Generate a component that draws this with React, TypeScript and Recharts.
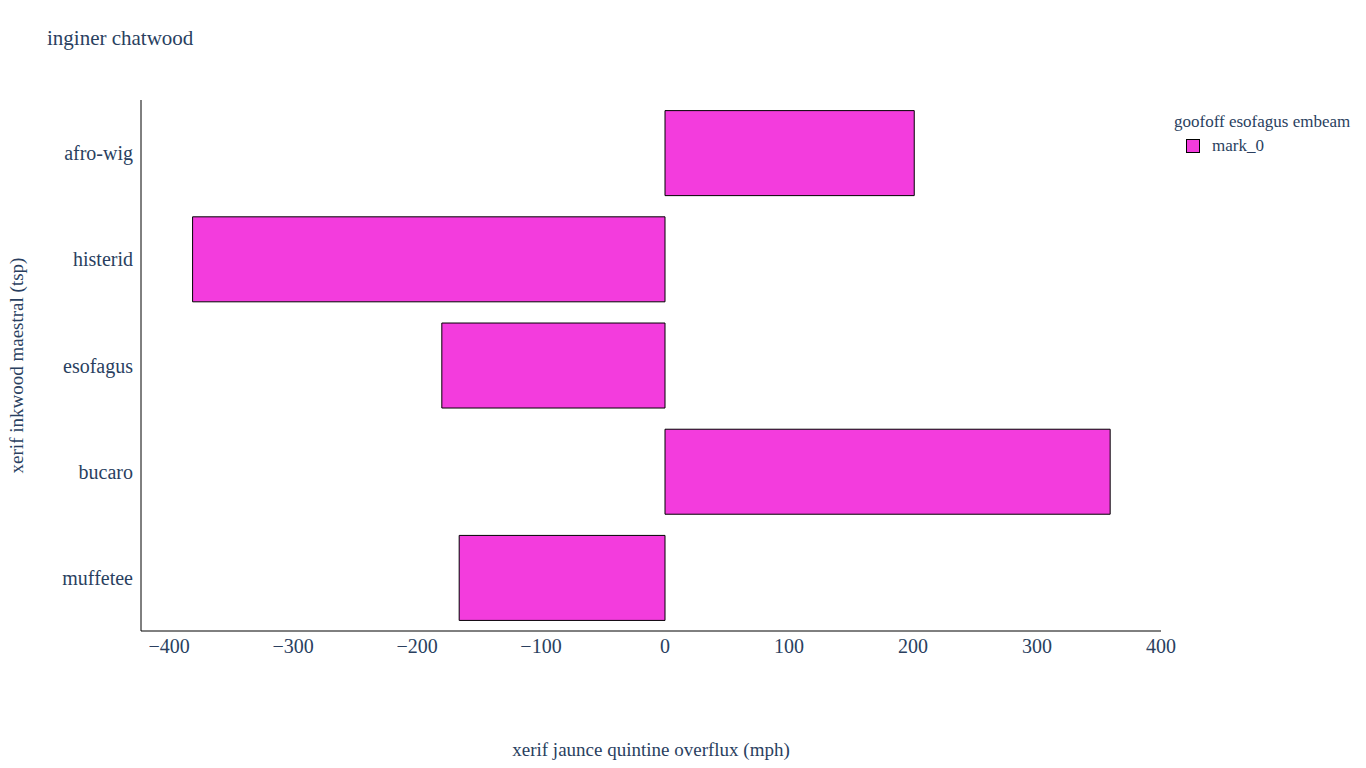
import React from "react";
import { BarChart, Bar, XAxis, YAxis } from "recharts";

const categories = ["afro-wig", "histerid", "esofagus", "bucaro", "muffetee"];
const values = [201, -381, -180, 359, -166];
const xTicks = [-400, -300, -200, -100, 0, 100, 200, 300, 400];

const data = categories.map((name, i) => ({ name, mark_0: values[i] }));
const font = "'Liberation Serif', 'DejaVu Serif', serif";
const txt = "#2a3f5f";

export default function App() {
  return (
    <div style={{ position: "absolute", left: 0, top: 0, width: 1366, height: 768, background: "#fff", fontFamily: font }}>
      <div style={{ position: "absolute", left: 47, top: 26, fontSize: 21, color: txt }}>inginer chatwood</div>
      <div style={{ position: "absolute", left: 1174, top: 112, fontSize: 17, color: txt }}>goofoff esofagus embeam</div>
      <div style={{ position: "absolute", left: 1186, top: 139, width: 12, height: 12, background: "#f33cdd", border: "1px solid #000" }} />
      <div style={{ position: "absolute", left: 1212, top: 136, fontSize: 17, color: txt }}>mark_0</div>
      <BarChart
        width={1366}
        height={768}
        data={data}
        layout="vertical"
        margin={{ top: 100, right: 205, bottom: 0, left: 0 }}
        barCategoryGap="10%"
      >
        <XAxis
          type="number"
          domain={[-422.6, 400]}
          ticks={xTicks}
          allowDataOverflow
          height={137}
          tickLine={false}
          axisLine={{ stroke: "#000" }}
          tick={{ fontSize: 20, fill: txt, fontFamily: font }}
          tickFormatter={(v: number) => String(v).replace("-", "\u2212")}
          label={{ value: "xerif jaunce quintine overflux (mph)", position: "insideBottom", offset: 12, fontSize: 19, fill: txt, fontFamily: font }}
        />
        <YAxis
          type="category"
          dataKey="name"
          width={141}
          tickLine={false}
          tickMargin={2}
          axisLine={{ stroke: "#000" }}
          tick={{ fontSize: 20, fill: txt, fontFamily: font }}
          label={{ value: "xerif inkwood maestral (tsp)", angle: -90, position: "insideLeft", offset: 16, fontSize: 19, fill: txt, fontFamily: font, style: { textAnchor: "middle" } }}
        />
        <Bar dataKey="mark_0" fill="#f33cdd" stroke="#000" strokeWidth={1} isAnimationActive={false} />
      </BarChart>
    </div>
  );
}
